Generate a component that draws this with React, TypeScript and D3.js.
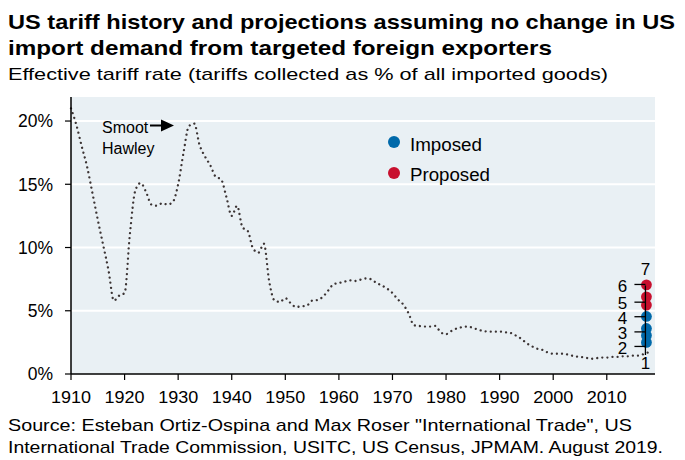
import React from "react";
import * as d3 from "d3";

const years: number[] = d3.range(1910, 2019);
const tariff: number[] = [
  21.0, 19.7, 18.0, 16.4, 14.3, 12.2, 10.2, 8.2, 5.8, 6.2,
  6.4, 11.1, 14.5, 15.1, 14.4, 13.4, 13.3, 13.5, 13.4, 13.6,
  15.0, 17.5, 19.6, 19.8, 18.1, 17.2, 16.5, 15.6, 15.4, 14.0,
  12.5, 13.3, 11.6, 11.3, 9.9, 9.6, 10.3, 7.3, 5.8, 5.7,
  6.0, 5.6, 5.3, 5.35, 5.4, 5.8, 5.85, 6.1, 6.6, 7.1,
  7.2, 7.3, 7.4, 7.35, 7.45, 7.55, 7.5, 7.2, 7.0, 6.75,
  6.4, 5.9, 5.5, 4.8, 3.85, 3.8, 3.75, 3.75, 3.8, 3.3,
  3.15, 3.4, 3.6, 3.7, 3.75, 3.65, 3.5, 3.4, 3.35, 3.35,
  3.35, 3.3, 3.25, 3.05, 2.8, 2.45, 2.2, 2.0, 1.9, 1.7,
  1.6, 1.6, 1.6, 1.5, 1.4, 1.35, 1.3, 1.2, 1.25, 1.3,
  1.3, 1.35, 1.35, 1.4, 1.4, 1.45, 1.45, 1.6, 1.75,
];

const markerYear = 2017.4;
const imposed: number[] = [2.5, 3.05, 3.6, 4.55];
const proposed: number[] = [5.45, 6.1, 7.05];
const scenarioLabels: string[] = ["1", "2", "3", "4", "5", "6", "7"];
const scenarioLabelValues: number[] = [0.9, 2.1, 3.25, 4.45, 5.6, 7.0, 8.3];

const yTicks: number[] = [0, 5, 10, 15, 20];
const xTicks: number[] = d3.range(1910, 2011, 10);

const W = 685;
const H = 460;
const m = { left: 71, right: 30, top: 97, bottom: 86 };

export default function App() {
  const x = d3.scaleLinear().domain([1910, 2019]).range([m.left, W - m.right]);
  const y = d3.scaleLinear().domain([0, 21.9]).range([H - m.bottom, m.top]);
  const line = d3
    .line<number>()
    .x((_, i) => x(years[i]))
    .y((d) => y(d))
    .curve(d3.curveMonotoneX);
  const font = "Arial, 'Liberation Sans', sans-serif";
  const blue = "#0069AA";
  const red = "#C8102E";
  const mx = x(markerYear);
  const plotBottom = y(0);
  const sg = "spacingAndGlyphs";

  return (
    <svg
      width={W}
      height={H}
      style={{ position: "absolute", left: 0, top: 0, background: "#fff" }}
      fontFamily={font}
    >
      <text x={8} y={29} fontSize={21} fontWeight="bold" fill="#000" textLength={667} lengthAdjust={sg}>
        US tariff history and projections assuming no change in US
      </text>
      <text x={8} y={55} fontSize={21} fontWeight="bold" fill="#000" textLength={544} lengthAdjust={sg}>
        import demand from targeted foreign exporters
      </text>
      <text x={8} y={80} fontSize={17} fill="#000" textLength={600} lengthAdjust={sg}>
        Effective tariff rate (tariffs collected as % of all imported goods)
      </text>

      <rect
        x={m.left}
        y={m.top}
        width={W - m.right - m.left}
        height={plotBottom - m.top}
        fill="#E9F0F4"
      />
      {yTicks.slice(1).map((t) => (
        <line
          key={t}
          x1={m.left}
          x2={W - m.right}
          y1={y(t)}
          y2={y(t)}
          stroke="#fff"
          strokeWidth={2}
        />
      ))}

      <path
        d={line(tariff) || ""}
        fill="none"
        stroke="#3B3333"
        strokeWidth={2.3}
        strokeDasharray="0.01 5.1"
        strokeLinecap="round"
      />

      {/* axes */}
      <line x1={m.left} x2={m.left} y1={m.top} y2={plotBottom} stroke="#000" strokeWidth={1.5} />
      <line x1={m.left} x2={W - m.right} y1={plotBottom} y2={plotBottom} stroke="#000" strokeWidth={1.5} />
      {yTicks.map((t) => (
        <g key={t}>
          <line x1={m.left - 6} x2={m.left} y1={y(t)} y2={y(t)} stroke="#000" strokeWidth={1.2} />
          <text x={m.left - 18} y={y(t)} dy="0.36em" textAnchor="end" fontSize={17.5} fill="#000">
            {t + "%"}
          </text>
        </g>
      ))}
      {xTicks.map((t) => (
        <g key={t}>
          <line x1={x(t)} x2={x(t)} y1={plotBottom} y2={plotBottom + 6} stroke="#000" strokeWidth={1.2} />
          <text
            x={x(t) - 20}
            y={plotBottom + 29}
            fontSize={17}
            fill="#000"
            textLength={40}
            lengthAdjust={sg}
          >
            {t}
          </text>
        </g>
      ))}

      {/* Smoot Hawley annotation */}
      <text x={102} y={133} fontSize={16} fill="#000">Smoot</text>
      <text x={102} y={154} fontSize={16} fill="#000">Hawley</text>
      <line x1={150} x2={162} y1={125.5} y2={125.5} stroke="#000" strokeWidth={2} />
      <path d="M161,119.5 L174,125.5 L161,131.5 Z" fill="#000" />

      {/* legend */}
      <circle cx={394} cy={142} r={6} fill={blue} />
      <text x={410} y={151} fontSize={18} fill="#000" textLength={72} lengthAdjust={sg}>Imposed</text>
      <circle cx={394} cy={173} r={6} fill={red} />
      <text x={410} y={181} fontSize={18} fill="#000" textLength={80} lengthAdjust={sg}>Proposed</text>

      {/* scenario markers */}
      {imposed.map((v, i) => (
        <circle key={"b" + i} cx={mx} cy={y(v)} r={5.4} fill={blue} />
      ))}
      {proposed.map((v, i) => (
        <circle key={"r" + i} cx={mx} cy={y(v)} r={5.4} fill={red} />
      ))}
      <line x1={mx - 1} x2={mx - 1} y1={y(7.0)} y2={y(1.5)} stroke="#000" strokeWidth={1.3} />
      {scenarioLabels.map((lab, i) => {
        const v = scenarioLabelValues[i];
        const edge = i === 0 || i === 6;
        const tx = edge ? mx - 1 : mx - 24;
        const ly = y(v);
        return (
          <g key={lab}>
            {!edge && (
              <line x1={mx - 12} x2={mx - 1} y1={ly - 1} y2={ly - 1} stroke="#000" strokeWidth={1.3} />
            )}
            <text x={tx} y={ly} dy="0.36em" textAnchor="middle" fontSize={17} fill="#000">
              {lab}
            </text>
          </g>
        );
      })}

      <text x={8} y={431} fontSize={17} fill="#000" textLength={624} lengthAdjust={sg}>
        Source: Esteban Ortiz-Ospina and Max Roser "International Trade", US
      </text>
      <text x={8} y={453} fontSize={17} fill="#000" textLength={655} lengthAdjust={sg}>
        International Trade Commission, USITC, US Census, JPMAM. August 2019.
      </text>
    </svg>
  );
}
